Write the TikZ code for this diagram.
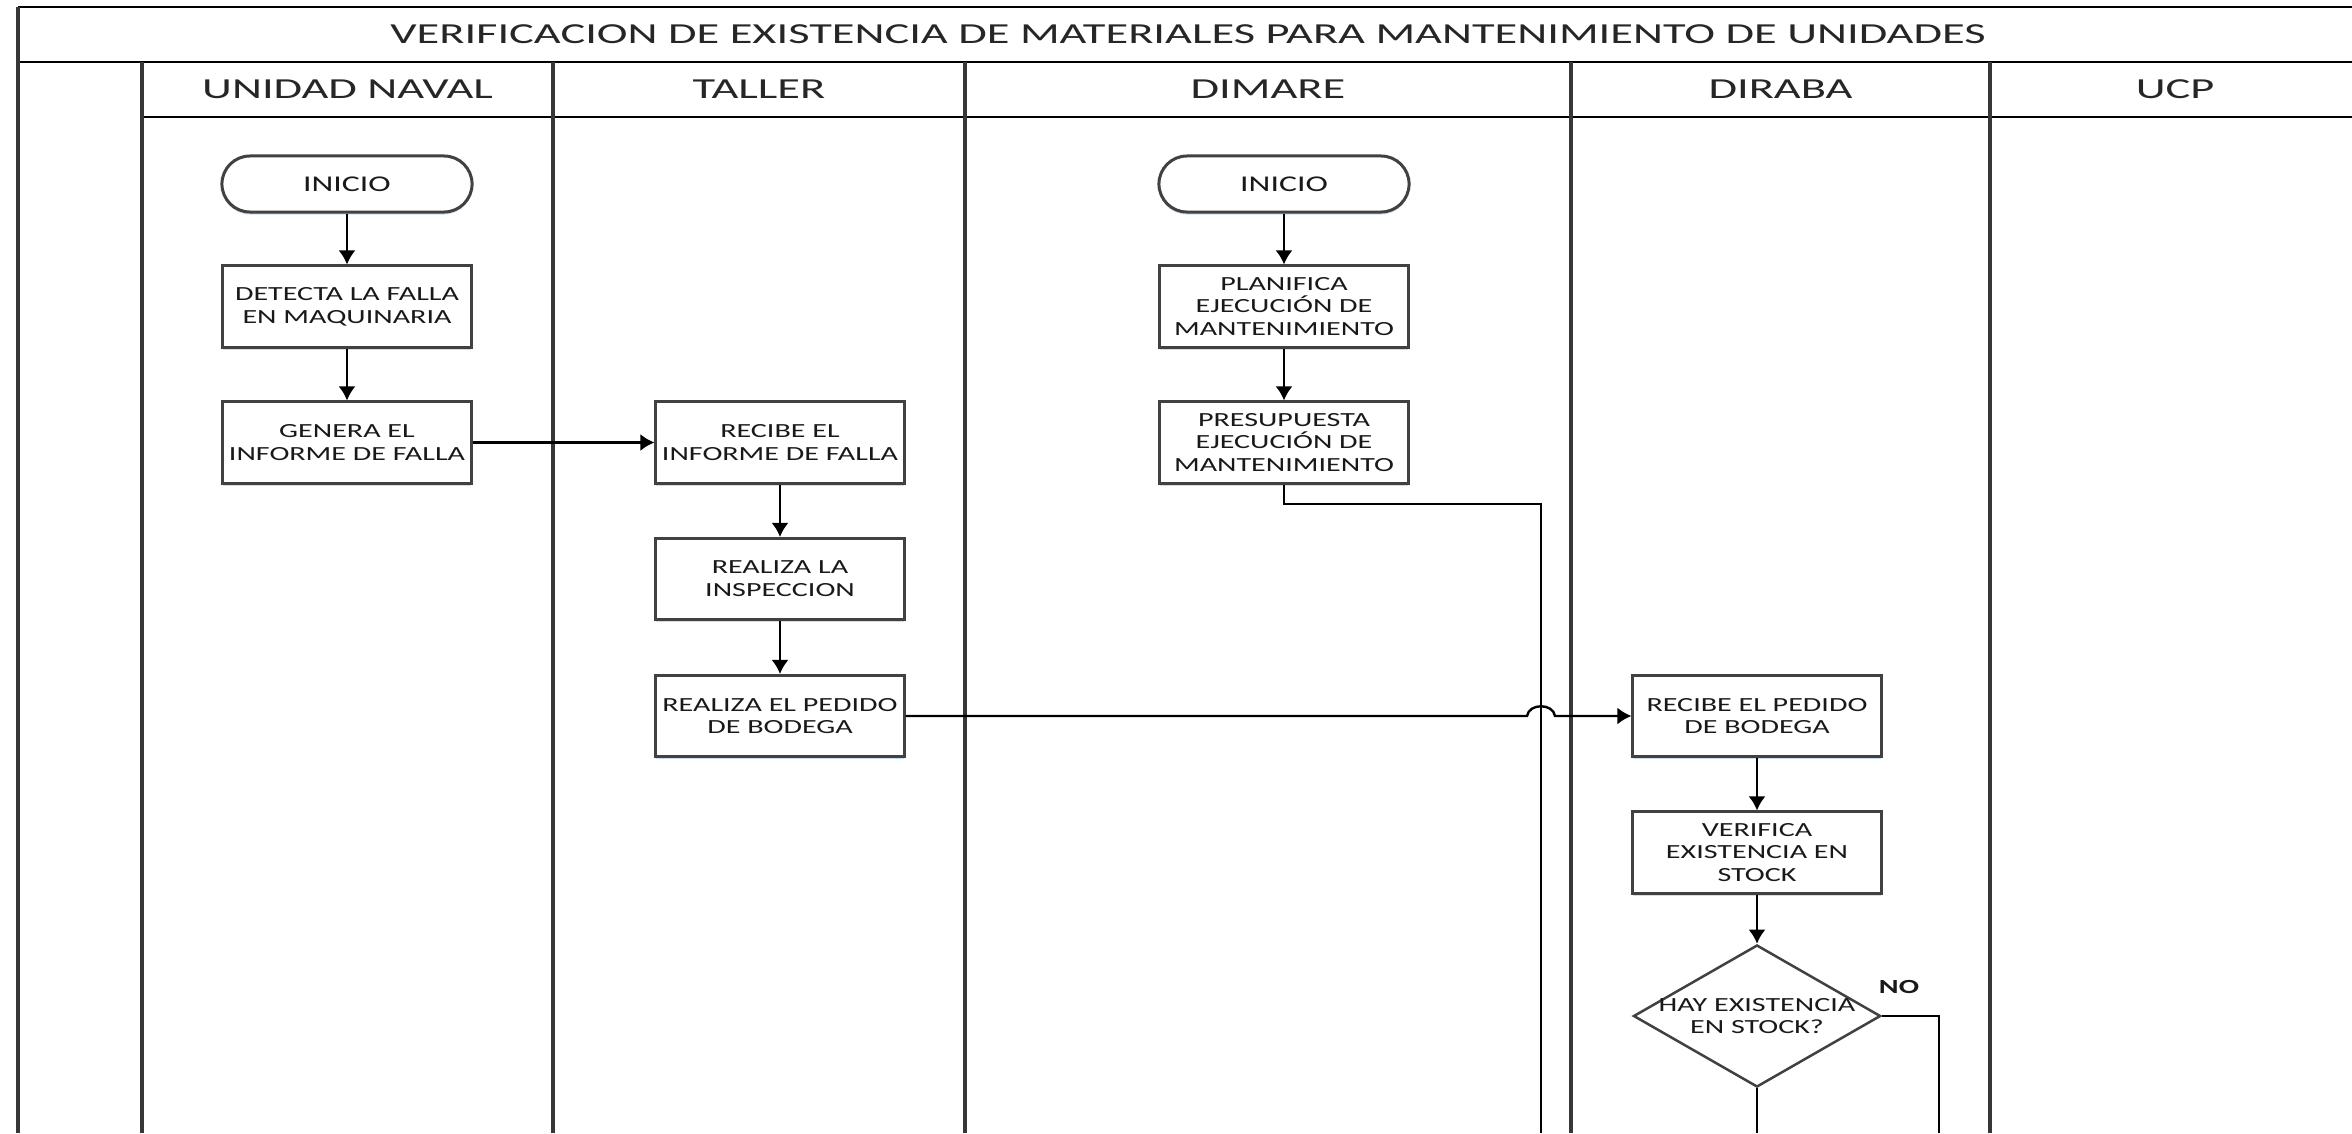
\documentclass[tikz,border=0pt]{standalone}
\usepackage{fontspec}
\setmainfont{Carlito}
\newfontfamily\anchafont{Carlito}[FakeStretch=1.6]
\newfontfamily\cajafont{Carlito}[FakeStretch=1.5]
\usetikzlibrary{arrows.meta,shapes.geometric,shadows}
\definecolor{gris}{RGB}{55,55,55}
\definecolor{grisCaja}{RGB}{65,65,65}
\definecolor{sombra}{RGB}{170,200,235}

\begin{document}
\begin{tikzpicture}[x=0.01cm, y=-0.01cm,
    carril/.style={line width=0.035cm, gris},
    borde/.style={line width=0.022cm, black},
    caja/.style={draw=grisCaja, fill=white, line width=0.03cm, minimum width=2.48cm,
      minimum height=0.81cm, inner sep=0pt, align=center, text=black!90,
      drop shadow={shadow xshift=0cm, shadow yshift=-0.025cm, fill=sombra, opacity=0.6},
      font=\cajafont\fontsize{5.7}{6.5}\selectfont},
    inicio/.style={caja, rounded corners=0.28cm, minimum width=2.5cm, minimum height=0.56cm,
      font=\cajafont\fontsize{6.4}{7}\selectfont},
    decision/.style={diamond, draw=grisCaja, line width=0.025cm, minimum width=2.47cm,
      minimum height=1.42cm, inner sep=0pt},
    flecha/.style={line width=0.024cm, -{Latex[length=0.14cm,width=0.17cm]}},
    linea/.style={line width=0.024cm},
    titulo/.style={font=\anchafont\fontsize{8.25}{9}\selectfont, text=black!85}]

  \useasboundingbox (0,0) rectangle (2352,1133);

  % Marco, titulo y carriles
  \draw[borde] (18,7) -- (2352,7);
  \draw[borde] (18,62) -- (2352,62);
  \draw[borde] (142,117) -- (2352,117);
  \draw[carril] (18,7) -- (18,1133);
  \foreach \x in {142,553,965,1571,1990}
    \draw[carril] (\x,62) -- (\x,1133);

  \node[titulo] (titulo) at (1188,34.5) {VERIFICACION DE EXISTENCIA DE MATERIALES PARA MANTENIMIENTO DE UNIDADES};
  \node[titulo] (hNaval) at (347.5,89.5) {UNIDAD NAVAL};
  \node[titulo] (hTaller) at (759,89.5) {TALLER};
  \node[titulo] (hDimare) at (1268,89.5) {DIMARE};
  \node[titulo] (hDiraba) at (1780.5,89.5) {DIRABA};
  \node[titulo] (hUcp) at (2175,89.5) {UCP};

  % Unidad naval
  \node[inicio] (ini1) at (347,184) {INICIO};
  \node[caja] (detecta) at (347,306.5) {DETECTA LA FALLA\\EN MAQUINARIA};
  \node[caja] (genera) at (347,442.5) {GENERA EL\\INFORME DE FALLA};

  % Taller
  \node[caja] (recibe) at (780,442.5) {RECIBE EL\\INFORME DE FALLA};
  \node[caja] (inspec) at (780,579) {REALIZA LA\\INSPECCION};
  \node[caja] (pedido) at (780,716) {REALIZA EL PEDIDO\\DE BODEGA};

  % Dimare
  \node[inicio] (ini2) at (1284,184) {INICIO};
  \node[caja] (planif) at (1284,306.5) {PLANIFICA\\EJECUCIÓN DE\\MANTENIMIENTO};
  \node[caja] (presup) at (1284,442.5) {PRESUPUESTA\\EJECUCIÓN DE\\MANTENIMIENTO};

  % Diraba
  \node[caja] (recped) at (1757,716) {RECIBE EL PEDIDO\\DE BODEGA};
  \node[caja] (verif) at (1757,852.5) {VERIFICA\\EXISTENCIA EN\\STOCK};
  \node[decision, label={[font=\cajafont\fontsize{5.7}{6.5}\selectfont, align=center, text=black!90]center:{HAY EXISTENCIA\\EN STOCK?}}] (hay) at (1757,1016) {};
  \node[font=\cajafont\bfseries\fontsize{5.7}{6.5}\selectfont, text=black!90] (no) at (1899,987) {NO};

  % Extremos que salen por abajo
  \coordinate (fin1) at (1541,1133);
  \coordinate (fin2) at (1757,1133);
  \coordinate (fin3) at (1939,1133);

  % Conectores
  \draw[flecha] (ini1) -- (detecta);
  \draw[flecha] (detecta) -- (genera);
  \draw[flecha] (genera) -- (recibe);
  \draw[flecha] (recibe) -- (inspec);
  \draw[flecha] (inspec) -- (pedido);
  \draw[flecha] (pedido.east) -- (1527,716) .. controls (1529,703) and (1553,703) .. (1555,716) -- (recped.west);
  \draw[flecha] (ini2) -- (planif);
  \draw[flecha] (planif) -- (presup);
  \draw[linea] (presup.south) -- (1284,504) -| (fin1);
  \draw[flecha] (recped) -- (verif);
  \draw[flecha] (verif) -- (hay);
  \draw[linea] (hay.south) -- (fin2);
  \draw[linea] (hay.east) -| (fin3);
\end{tikzpicture}
\end{document}
